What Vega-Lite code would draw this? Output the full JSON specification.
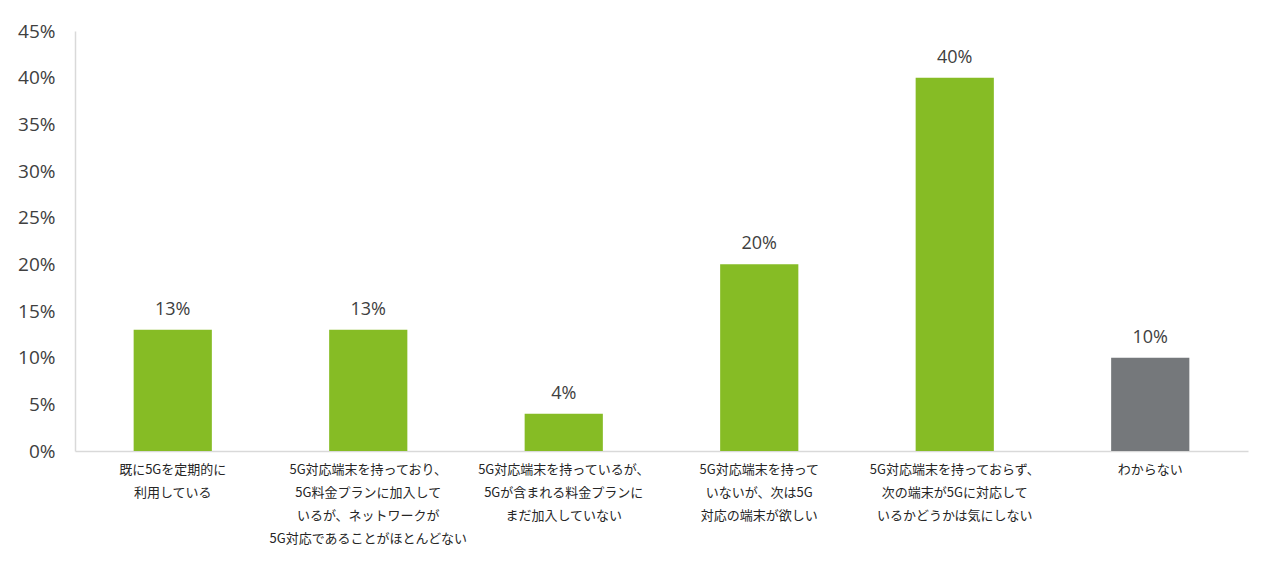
{
  "$schema": "https://vega.github.io/schema/vega-lite/v6.json",
  "autosize": {"type": "none"},
  "width": 1173,
  "height": 420,
  "padding": {"left": 75, "top": 31, "right": 32, "bottom": 119},
  "background": "white",
  "data": {
    "values": [
      {"label": "既に5Gを定期的に\n利用している", "value": 0.13, "group": "a"},
      {"label": "5G対応端末を持っており、\n5G料金プランに加入して\nいるが、ネットワークが\n5G対応であることがほとんどない", "value": 0.13, "group": "a"},
      {"label": "5G対応端末を持っているが、\n5Gが含まれる料金プランに\nまだ加入していない", "value": 0.04, "group": "a"},
      {"label": "5G対応端末を持って\nいないが、次は5G\n対応の端末が欲しい", "value": 0.20, "group": "a"},
      {"label": "5G対応端末を持っておらず、\n次の端末が5Gに対応して\nいるかどうかは気にしない", "value": 0.40, "group": "a"},
      {"label": "わからない", "value": 0.10, "group": "b"}
    ]
  },
  "config": {
    "view": {"stroke": null},
    "font": "Open Sans"
  },
  "encoding": {
    "x": {
      "field": "label",
      "type": "nominal",
      "sort": null,
      "scale": {"paddingInner": 0.6, "paddingOuter": 0.3},
      "axis": {
        "title": null,
        "labelAngle": 0,
        "labelExpr": "split(datum.label, '\\n')",
        "labelFont": "Noto Sans CJK JP",
        "labelFontSize": 13,
        "labelColor": "#262626",
        "labelLineHeight": 23,
        "labelPadding": 12,
        "labelLimit": 300,
        "ticks": false,
        "domainColor": "#d9d9d9",
        "domainWidth": 1.5
      }
    },
    "y": {
      "field": "value",
      "type": "quantitative",
      "scale": {"domain": [0, 0.45]},
      "axis": {
        "title": null,
        "format": ".0%",
        "values": [0, 0.05, 0.1, 0.15, 0.2, 0.25, 0.3, 0.35, 0.4, 0.45],
        "grid": false,
        "ticks": false,
        "labelFontSize": 19,
        "labelColor": "#404040",
        "labelPadding": 20,
        "domainColor": "#d9d9d9",
        "domainWidth": 1.5
      }
    }
  },
  "layer": [
    {
      "mark": {"type": "bar"},
      "encoding": {
        "color": {
          "field": "group",
          "type": "nominal",
          "scale": {"domain": ["a", "b"], "range": ["#86BC25", "#75787B"]},
          "legend": null
        }
      }
    },
    {
      "mark": {"type": "text", "baseline": "bottom", "dy": -11, "fontSize": 18, "color": "#404040"},
      "encoding": {
        "text": {"field": "value", "type": "quantitative", "format": ".0%"}
      }
    }
  ]
}
